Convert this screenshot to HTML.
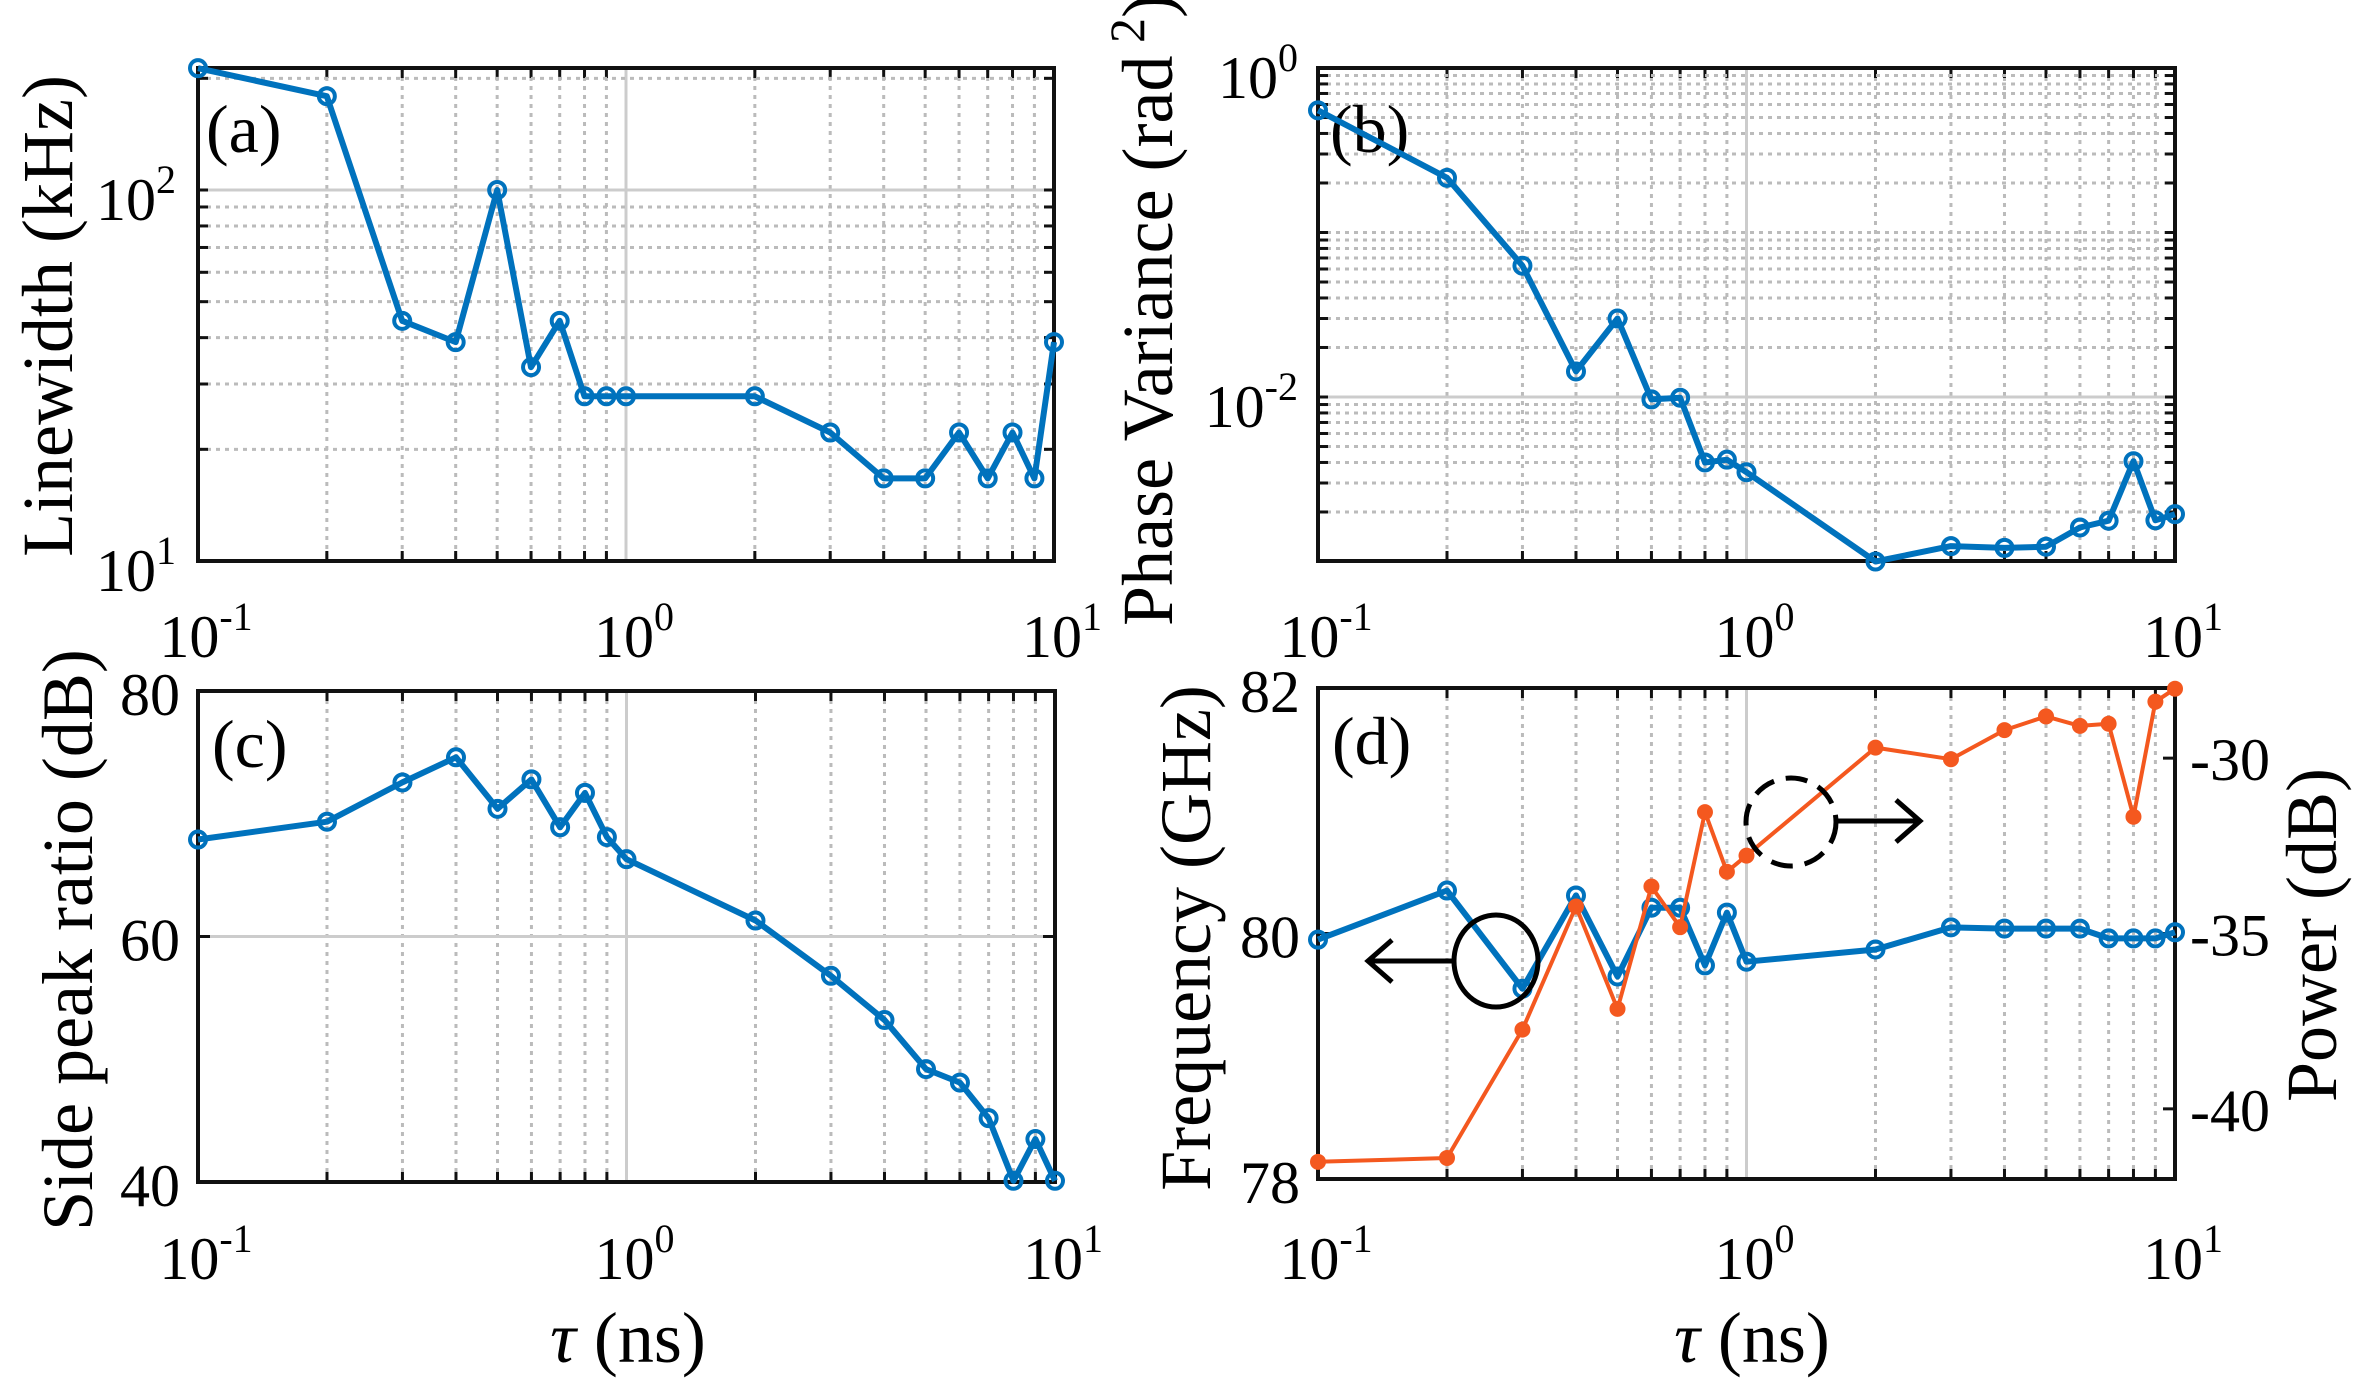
<!DOCTYPE html>
<html><head><meta charset="utf-8"><style>
html,body{margin:0;padding:0;background:#fff;}
svg{display:block;font-family:"Liberation Serif",serif;}
</style></head><body>
<svg id="fig" width="2373" height="1384" viewBox="0 0 2373 1384" xmlns="http://www.w3.org/2000/svg"></svg>
<script>
const tau = [0.1,0.2,0.3,0.4,0.5,0.6,0.7,0.8,0.9,1,2,3,4,5,6,7,8,9,10];
const linewidthKHz = [213,179,44.4,38.9,100,33.3,44.4,27.8,27.8,27.8,27.8,22.2,16.7,16.7,22.2,16.7,22.2,16.7,38.9];
const phaseVar = [0.553,0.215,0.0628,0.0143,0.030,0.00967,0.0099,0.0040,0.00416,0.00349,0.001,0.00124,0.00121,0.00123,0.00161,0.00177,0.00407,0.00178,0.00194];
const sideRatio = [67.9,69.35,72.55,74.6,70.4,72.8,68.9,71.7,68.1,66.3,61.3,56.8,53.2,49.2,48.1,45.2,40.1,43.5,40.1];
const freqGHz = [79.95,80.35,79.55,80.31,79.65,80.21,80.21,79.74,80.17,79.77,79.87,80.05,80.04,80.04,80.04,79.96,79.96,79.96,80.01];
const powerDB = [-41.51,-41.40,-37.74,-34.23,-37.15,-33.66,-34.82,-31.54,-33.24,-32.78,-29.70,-30.03,-29.20,-28.81,-29.08,-29.02,-31.67,-28.39,-28.02];
const xTickLabels = ["-1","0","1"];

const NS="http://www.w3.org/2000/svg";
const svg=document.getElementById('fig');
function mk(tag,attrs,parent){const e=document.createElementNS(NS,tag);for(const k in attrs)e.setAttribute(k,attrs[k]);(parent||svg).appendChild(e);return e;}
const BLUE="#0072BD", ORANGE="#F4581F";
const TF=60, EF=40, EDY=-27;

function panel(P){
  const g=mk('g',{});
  
  
  const {x0,x1,y0,y1}=P;
  const xs=v=>x0+(Math.log10(v)+1)/2*(x1-x0);
  for(let d=-1;d<1;d++){for(let m=2;m<=9;m++){const X=xs(m*Math.pow(10,d));
    const l=mk('line',{x1:X,x2:X,y1:y0,y2:y1,stroke:'#bbb','stroke-width':3,'stroke-dasharray':'4 5'},g);
    
    mk('line',{x1:X,x2:X,y1:y0,y2:y0+10,stroke:'#111','stroke-width':3},g);
    mk('line',{x1:X,x2:X,y1:y1,y2:y1-10,stroke:'#111','stroke-width':3},g);}}
  {const X=xs(1);const l=mk('line',{x1:X,x2:X,y1:y0,y2:y1,stroke:'#ccc','stroke-width':3},g);
   }
  P.ygrid(g);
  const r=mk('rect',{x:x0,y:y0,width:x1-x0,height:y1-y0,fill:'none',stroke:'#111','stroke-width':4},g);
  
  xTickLabels.forEach((s,i)=>{const X=x0+i/2*(x1-x0);
    const t=mk('text',{x:X+8,y:P.xlabY,'font-size':TF,'text-anchor':'middle'},g);
    
    t.innerHTML='10<tspan dy="'+EDY+'" font-size="'+EF+'">'+s+'</tspan>';});
  const pl=mk('text',{x:P.plx,y:P.ply,'font-size':68},g);
  
  pl.textContent=P.label;
  return {g,xs};
}
function series(g,xs,ys,vals,color,name,filled){
  let d='';tau.forEach((t,i)=>{d+=(i?'L':'M')+xs(t).toFixed(1)+','+ys(vals[i]).toFixed(1);});
  const p=mk('path',{d:d,fill:'none',stroke:color,'stroke-width':filled?4:6,'stroke-linejoin':'round'},g);
  
  tau.forEach((t,i)=>{const c=mk('circle',{cx:xs(t),cy:ys(vals[i]),r:filled?6:8,fill:filled?color:'none',stroke:color,'stroke-width':4},g);
    });
}
function ytext(g,x,y,html,anchor,name){const t=mk('text',{x:x,y:y,'font-size':TF,'text-anchor':anchor||'end'},g);
  t.innerHTML=html;return t;}
function title(x,y,html,rot,name){const t=mk('text',{x:x,y:y,'font-size':72,'text-anchor':'middle',transform:rot?`rotate(-90 ${x} ${y})`:''});
  t.innerHTML=html;return t;}
function logYGrid(g,x0,x1,y0,y1,ys,dmin,dmax,majors){
  for(let d=dmin;d<dmax;d++){for(let m=1;m<=9;m++){const v=m*Math.pow(10,d);const Y=ys(v);
    if(Y<y0+1||Y>y1-1)continue;
    if(m===1&&majors.indexOf(d)>=0){const l=mk('line',{x1:x0,x2:x1,y1:Y,y2:Y,stroke:'#ccc','stroke-width':3},g);}
    else{const l=mk('line',{x1:x0,x2:x1,y1:Y,y2:Y,stroke:'#bbb','stroke-width':3,'stroke-dasharray':'4 5'},g);}
    mk('line',{x1:x0,x2:x0+10,y1:Y,y2:Y,stroke:'#111','stroke-width':3},g);
    mk('line',{x1:x1,x2:x1-10,y1:Y,y2:Y,stroke:'#111','stroke-width':3},g);}}
}
const YOFF=30;

// (a)
{const P={name:'panel-a',x0:198,x1:1054,y0:68,y1:561,xlabY:657,label:'(a)',plx:206,ply:152};
 const ys=v=>561-(Math.log10(v)-1)*371;
 P.ygrid=g=>logYGrid(g,P.x0,P.x1,P.y0,P.y1,ys,1,3,[2]);
 const {g,xs}=panel(P);
 series(g,xs,ys,linewidthKHz,BLUE,'linewidth');
 ytext(g,176,ys(100)+YOFF,'10<tspan dy="'+EDY+'" font-size="'+EF+'">2</tspan>');
 ytext(g,176,ys(10)+YOFF,'10<tspan dy="'+EDY+'" font-size="'+EF+'">1</tspan>');
 title(72,316,'Linewidth (kHz)',true,'y-axis-title-a');}
// (b)
{const P={name:'panel-b',x0:1318,x1:2175,y0:68,y1:561,xlabY:657,label:'(b)',plx:1330,ply:152};
 const ys=v=>68-Math.log10(v)*164.5;
 P.ygrid=g=>logYGrid(g,P.x0,P.x1,P.y0,P.y1,ys,-3,0,[-2]);
 const {g,xs}=panel(P);
 series(g,xs,ys,phaseVar,BLUE,'phase-variance');
 ytext(g,1298,ys(1)+YOFF,'10<tspan dy="'+EDY+'" font-size="'+EF+'">0</tspan>');
 ytext(g,1298,ys(0.01)+YOFF,'10<tspan dy="'+EDY+'" font-size="'+EF+'">-2</tspan>');
 title(1172,310,'Phase Variance (rad<tspan dy="-28" font-size="50"> 2</tspan><tspan dy="28">)</tspan>',true,'y-axis-title-b');}
// (c)
{const P={name:'panel-c',x0:198,x1:1055,y0:691,y1:1182,xlabY:1279,label:'(c)',plx:212,ply:767};
 const ys=v=>1182-(v-40)/40*491;
 P.ygrid=g=>{const Y=ys(60);const l=mk('line',{x1:P.x0,x2:P.x1,y1:Y,y2:Y,stroke:'#ccc','stroke-width':3},g);
   mk('line',{x1:P.x0,x2:P.x0+12,y1:Y,y2:Y,stroke:'#111','stroke-width':3},g);mk('line',{x1:P.x1,x2:P.x1-12,y1:Y,y2:Y,stroke:'#111','stroke-width':3},g);};
 const {g,xs}=panel(P);
 series(g,xs,ys,sideRatio,BLUE,'side-peak-ratio');
 [40,60,80].forEach(v=>ytext(g,180,ys(v)+24,String(v)));
 title(92,940,'Side peak ratio (dB)',true,'y-axis-title-c');
 title(628,1362,'<tspan font-style="italic">τ</tspan> (ns)',false,'x-axis-title-c');}
// (d)
{const P={name:'panel-d',x0:1318,x1:2175,y0:688,y1:1179,xlabY:1279,label:'(d)',plx:1332,ply:764};
 const ysL=v=>1179-(v-78)/4*491;
 const ysR=v=>1179-(v+42)/14*491;
 P.ygrid=g=>{[80].forEach(v=>{const Y=ysL(v);mk('line',{x1:P.x0,x2:P.x0+12,y1:Y,y2:Y,stroke:'#111','stroke-width':3},g);});
   [-40,-35,-30].forEach(v=>{const Y=ysR(v);mk('line',{x1:P.x1,x2:P.x1-12,y1:Y,y2:Y,stroke:'#111','stroke-width':3},g);});};
 const {g,xs}=panel(P);
 series(g,xs,ysL,freqGHz,BLUE,'frequency');
 series(g,xs,ysR,powerDB,ORANGE,'power',true);
 [78,80,82].forEach(v=>ytext(g,1300,ysL(v)+24,String(v)));
 [-40,-35,-30].forEach(v=>ytext(g,2190,ysR(v)+22,String(v),'start','y-right-tick-label'));
 title(1210,938,'Frequency (GHz)',true,'y-axis-title-left-d');
 title(2336,935,'Power (dB)',true,'y-axis-title-right-d');
 title(1752,1362,'<tspan font-style="italic">τ</tspan> (ns)',false,'x-axis-title-d');
 const e1=mk('ellipse',{cx:1496,cy:961,rx:42,ry:46,fill:'none',stroke:'#000','stroke-width':5},g);
 
 const a1=mk('path',{d:'M1454,961 L1370,961 M1392,940 L1368,961 L1392,982',fill:'none',stroke:'#000','stroke-width':5},g);
 
 const e2=mk('ellipse',{cx:1791,cy:822,rx:45,ry:44,fill:'none',stroke:'#000','stroke-width':5,'stroke-dasharray':'22 12'},g);
 
 const a2=mk('path',{d:'M1837,821 L1918,821 M1896,800 L1920,821 L1896,842',fill:'none',stroke:'#000','stroke-width':5},g);
 }
</script>
</body></html>
